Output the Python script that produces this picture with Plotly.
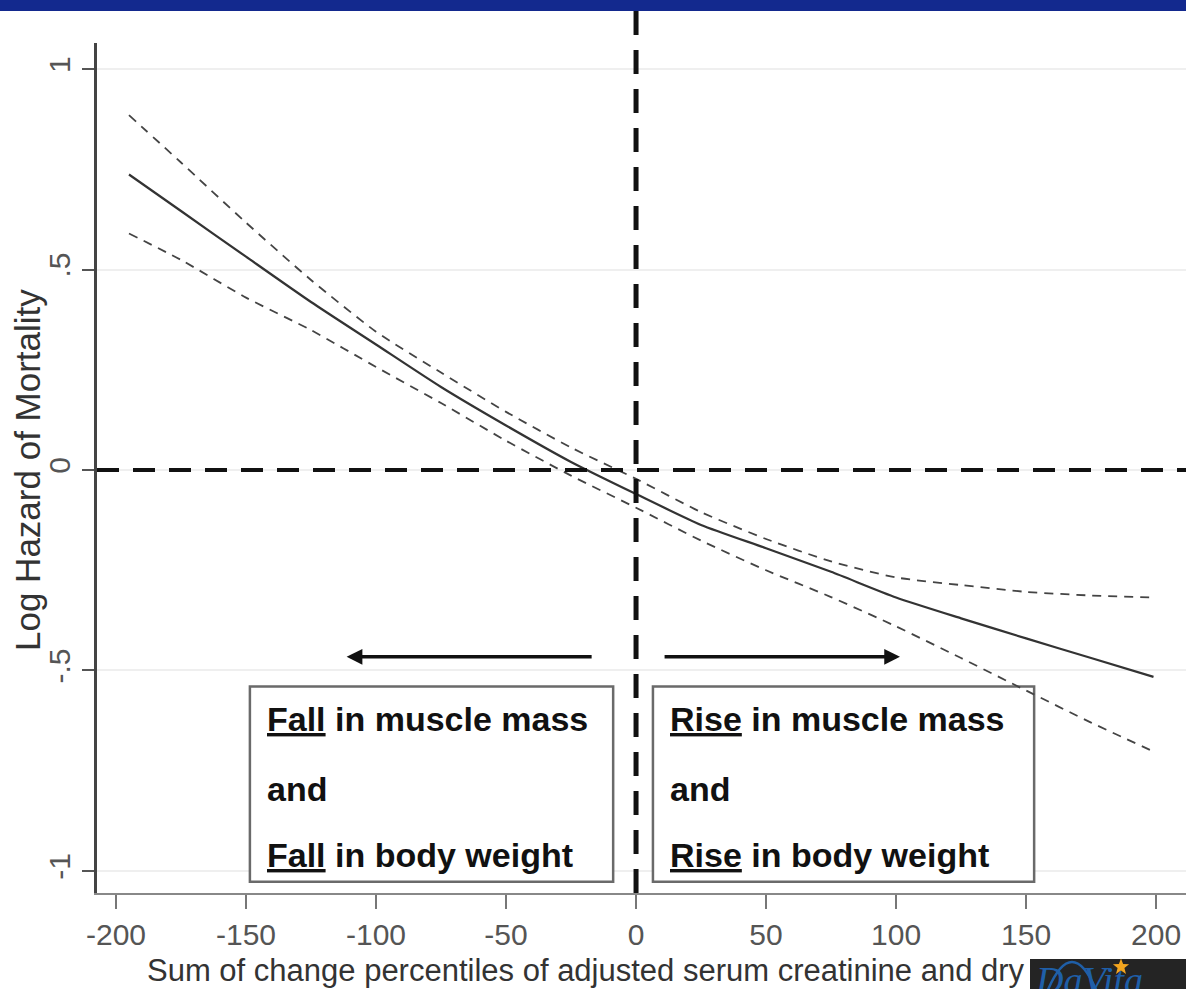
import math
import plotly.graph_objects as go

# ---------------- data ----------------
x_vals = [-195, -175, -150, -125, -100, -75, -50, -25, 0, 25, 50, 75, 100, 125, 150, 175, 199]
log_hazard = [0.737, 0.646, 0.532, 0.419, 0.313, 0.207, 0.111, 0.020, -0.060, -0.137,
              -0.195, -0.254, -0.318, -0.370, -0.420, -0.469, -0.516]
upper_ci = [0.885, 0.767, 0.617, 0.474, 0.345, 0.243, 0.145, 0.056, -0.022, -0.105,
            -0.172, -0.228, -0.268, -0.287, -0.304, -0.313, -0.318]
lower_ci = [0.590, 0.524, 0.430, 0.349, 0.257, 0.167, 0.073, -0.014, -0.094, -0.176,
            -0.250, -0.317, -0.390, -0.469, -0.550, -0.630, -0.702]

x_ticks = [-200, -150, -100, -50, 0, 50, 100, 150, 200]
x_tick_labels = ["-200", "-150", "-100", "-50", "0", "50", "100", "150", "200"]
y_ticks = [1, 0.5, 0, -0.5, -1]
y_tick_labels = ["1", ".5", "0", "-.5", "-1"]

x_title = "Sum of change percentiles of adjusted serum creatinine and dry"
y_title = "Log Hazard of Mortality"
left_box_lines = ["<u>Fall</u> in muscle mass", "and", "<u>Fall</u> in body weight"]
right_box_lines = ["<u>Rise</u> in muscle mass", "and", "<u>Rise</u> in body weight"]
logo_text = "DaVita"

# ---------------- layout geometry ----------------
W, H = 1186, 989
ML, MR, MT, MB = 97, 0, 43, 96
PW, PH = W - ML - MR, H - MT - MB
X_RANGE = [-207.3, 211.5]
Y_RANGE = [-1.055, 1.065]


def px_x(px):
    return (px - ML) / PW


def py_y(py):
    return (H - MB - py) / PH


FONT = "Liberation Sans, Arial, sans-serif"

fig = go.Figure()

fig.add_trace(go.Scatter(x=x_vals, y=upper_ci, mode="lines",
                         line=dict(color="#444444", width=1.8, dash="9px,7px", shape="spline", smoothing=0.6),
                         hoverinfo="skip", showlegend=False))
fig.add_trace(go.Scatter(x=x_vals, y=lower_ci, mode="lines",
                         line=dict(color="#444444", width=1.8, dash="9px,7px", shape="spline", smoothing=0.6),
                         hoverinfo="skip", showlegend=False))
fig.add_trace(go.Scatter(x=x_vals, y=log_hazard, mode="lines",
                         line=dict(color="#333333", width=2.2, shape="spline", smoothing=0.6),
                         hoverinfo="skip", showlegend=False))

# logo arc path (paper coords)
arc_path = (f"M {px_x(1047)},{py_y(992)} Q {px_x(1072)},{py_y(932)} {px_x(1097)},{py_y(992)}")

# logo star path (paper coords)
cx, cy, r_out, r_in = 1121, 967, 8.5, 3.6
pts = []
for k in range(10):
    ang = -math.pi / 2 + k * math.pi / 5
    rr = r_out if k % 2 == 0 else r_in
    pts.append((px_x(cx + rr * math.cos(ang)), py_y(cy + rr * math.sin(ang))))
star_path = "M " + " L ".join(f"{a},{b}" for a, b in pts) + " Z"

shapes = [
    # top banner
    dict(type="rect", xref="paper", yref="paper", x0=px_x(0), x1=px_x(W), y0=py_y(11), y1=py_y(-2),
         fillcolor="#13298E", line=dict(width=0), layer="above"),
    # logo block
    dict(type="rect", xref="paper", yref="paper", x0=px_x(1030), x1=px_x(W + 2), y0=py_y(H + 2), y1=py_y(959),
         fillcolor="#242424", line=dict(width=0), layer="below"),
    dict(type="path", xref="paper", yref="paper", path=arc_path,
         line=dict(color="#1f5fa8", width=2.5), layer="below"),
    dict(type="path", xref="paper", yref="paper", path=star_path,
         fillcolor="#f2a51f", line=dict(width=0), layer="below"),
    # text boxes
    dict(type="rect", xref="x", yref="y", x0=-148.5, x1=-8.8, y0=-1.027, y1=-0.540,
         fillcolor="white", line=dict(color="#6a6a6a", width=2.5), layer="between"),
    dict(type="rect", xref="x", yref="y", x0=6.5, x1=153.1, y0=-1.027, y1=-0.540,
         fillcolor="white", line=dict(color="#6a6a6a", width=2.5), layer="between"),
    # reference lines
    dict(type="line", xref="paper", yref="y", x0=0, x1=1, y0=0, y1=0,
         line=dict(color="#111111", width=4, dash="22px,14px"), layer="above"),
    dict(type="line", xref="x", yref="paper", x0=0, x1=0, y0=0, y1=py_y(11),
         line=dict(color="#111111", width=5, dash="24px,15px"), layer="above"),
]

annotations = []
# arrows
annotations.append(dict(x=-111.3, y=-0.466, ax=-16.5, ay=-0.466, xref="x", yref="y", axref="x", ayref="y",
                        text="", showarrow=True, arrowhead=2, arrowsize=0.9, arrowwidth=3.5, arrowcolor="#111111"))
annotations.append(dict(x=101.5, y=-0.466, ax=10.4, ay=-0.466, xref="x", yref="y", axref="x", ayref="y",
                        text="", showarrow=True, arrowhead=2, arrowsize=0.9, arrowwidth=3.5, arrowcolor="#111111"))

line_y = [-0.622, -0.795, -0.960]
for txt, yy in zip(left_box_lines, line_y):
    annotations.append(dict(x=px_x(265), y=yy, xref="paper", yref="y", xanchor="left", yanchor="middle",
                            text="<b>" + txt + "</b>", showarrow=False,
                            font=dict(family=FONT, size=34, color="#111111")))
for txt, yy in zip(right_box_lines, line_y):
    annotations.append(dict(x=px_x(668), y=yy, xref="paper", yref="y", xanchor="left", yanchor="middle",
                            text="<b>" + txt + "</b>", showarrow=False,
                            font=dict(family=FONT, size=34, color="#111111")))

# axis titles
annotations.append(dict(x=px_x(145), y=py_y(970), xref="paper", yref="paper", xanchor="left", yanchor="middle",
                        text=x_title, showarrow=False, font=dict(family=FONT, size=31, color="#333333")))
annotations.append(dict(x=px_x(27), y=py_y(470), xref="paper", yref="paper", xanchor="center", yanchor="middle",
                        text=y_title, textangle=-90, showarrow=False,
                        font=dict(family=FONT, size=35, color="#333333")))

# logo text
annotations.append(dict(x=px_x(1033), y=py_y(957), xref="paper", yref="paper", xanchor="left", yanchor="top",
                        text="<i>" + logo_text + "</i>", showarrow=False,
                        font=dict(family="Liberation Serif, Times New Roman, serif", size=38, color="#1f5fa8")))

fig.update_layout(
    width=W, height=H,
    margin=dict(l=ML, r=MR, t=MT, b=MB, pad=0),
    paper_bgcolor="white", plot_bgcolor="white",
    showlegend=False,
    shapes=shapes,
    annotations=annotations,
    font=dict(family=FONT),
    xaxis=dict(range=X_RANGE, tickvals=x_ticks, ticktext=x_tick_labels, ticks="outside", ticklen=14,
               tickwidth=2, tickcolor="#777777", showline=True, linecolor="#888888", linewidth=2,
               showgrid=False, zeroline=False, automargin=False,
               tickfont=dict(family=FONT, size=30, color="#555555")),
    yaxis=dict(range=Y_RANGE, tickvals=y_ticks, ticktext=y_tick_labels, tickangle=-90, ticks="outside",
               ticklen=12, tickwidth=2, tickcolor="#555555", showline=True, linecolor="#444444",
               linewidth=2.5, showgrid=True, gridcolor="#efefef", gridwidth=2, zeroline=False,
               automargin=False, tickfont=dict(family=FONT, size=30, color="#555555")),
)

fig.write_html("out.html", config={"displayModeBar": False})
